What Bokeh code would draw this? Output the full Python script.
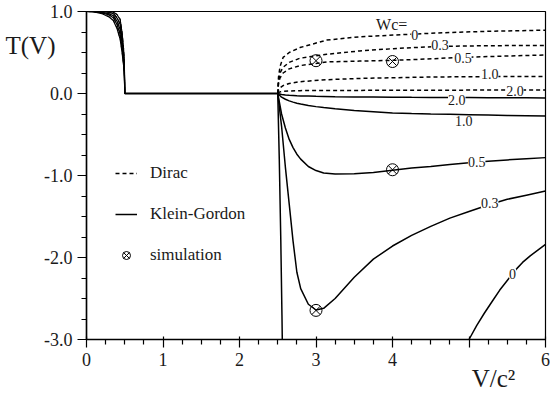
import numpy as np
from bokeh.plotting import figure
from bokeh.models import (FixedTicker, Label, Legend, LegendItem, Range1d, LinearAxis,
                          CustomJSTickFormatter)
from bokeh.embed import file_html
from bokeh.resources import INLINE

# ---------------- data ----------------
wc_texts = ["0", "0.3", "0.5", "1.0", "2.0"]

# region V < 0.5 (transmission drops to zero)
low_x = [0.0, 0.1, 0.2, 0.3, 0.35, 0.4, 0.44, 0.465, 0.485, 0.495, 0.5]
kg_low_0 = [1.0, 0.995, 0.975, 0.93, 0.89, 0.79, 0.66, 0.50, 0.34, 0.22, 0.0]
kg_low_03 = [1.0, 0.998, 0.985, 0.955, 0.925, 0.84, 0.72, 0.56, 0.38, 0.25, 0.0]
kg_low_05 = [1.0, 0.999, 0.99, 0.97, 0.95, 0.88, 0.78, 0.62, 0.43, 0.28, 0.0]
kg_low_10 = [1.0, 1.0, 0.997, 0.988, 0.975, 0.92, 0.84, 0.68, 0.48, 0.32, 0.0]
kg_low_20 = [1.0, 1.0, 1.0, 0.997, 0.992, 0.96, 0.90, 0.74, 0.54, 0.36, 0.0]
dirac_low_0 = [1.0, 0.996, 0.978, 0.935, 0.895, 0.80, 0.67, 0.51, 0.35, 0.23, 0.0]
dirac_low_03 = [1.0, 0.998, 0.987, 0.958, 0.93, 0.85, 0.73, 0.57, 0.39, 0.26, 0.0]
dirac_low_05 = [1.0, 0.999, 0.992, 0.973, 0.953, 0.89, 0.79, 0.63, 0.44, 0.29, 0.0]
dirac_low_10 = [1.0, 1.0, 0.998, 0.99, 0.978, 0.93, 0.85, 0.69, 0.49, 0.33, 0.0]
dirac_low_20 = [1.0, 1.0, 1.0, 0.998, 0.994, 0.965, 0.91, 0.75, 0.55, 0.37, 0.0]

# total reflection plateau
gap_x = [0.5, 2.5]
gap_T = [0.0, 0.0]

# Dirac, V > 2.5 (dashed)
dirac_x = [2.5, 2.51, 2.53, 2.57, 2.65, 2.79, 3.14, 3.57, 4.01, 4.44, 4.88, 5.31, 6.0]
dirac_0 = [0.0, 0.20, 0.33, 0.44, 0.50, 0.56, 0.651, 0.692, 0.712, 0.732, 0.748, 0.760, 0.772]
dirac_03 = [0.0, 0.15, 0.25, 0.32, 0.38, 0.43, 0.478, 0.519, 0.547, 0.567, 0.579, 0.583, 0.587]
dirac_05 = [0.0, 0.12, 0.19, 0.25, 0.30, 0.34, 0.385, 0.395, 0.405, 0.42, 0.44, 0.452, 0.470]
dirac_10 = [0.0, 0.04, 0.07, 0.096, 0.122, 0.144, 0.168, 0.184, 0.192, 0.200, 0.204, 0.206, 0.208]
dirac_20 = [0.0, 0.01, 0.02, 0.026, 0.031, 0.035, 0.037, 0.038, 0.039, 0.040, 0.041, 0.042, 0.043]

# Klein-Gordon, V > 2.5 (solid)
kg_x = [2.5, 2.55, 2.6, 2.65, 2.7, 2.75, 2.8, 2.9, 3.0, 3.1, 3.25, 3.5, 3.75, 4.0, 4.25, 4.5,
        4.75, 5.0, 5.25, 5.5, 5.75, 6.0]
kg_03 = [0.0, -0.40, -0.90, -1.35, -1.80, -2.18, -2.38, -2.57, -2.64, -2.62, -2.50, -2.24, -2.02,
         -1.86, -1.73, -1.62, -1.52, -1.44, -1.36, -1.29, -1.24, -1.19]
kg_05 = [0.0, -0.25, -0.42, -0.56, -0.66, -0.74, -0.80, -0.89, -0.94, -0.97, -0.983, -0.98, -0.962,
         -0.935, -0.91, -0.89, -0.865, -0.845, -0.825, -0.81, -0.795, -0.782]
kg_10 = [0.0, -0.045, -0.07, -0.09, -0.105, -0.118, -0.128, -0.146, -0.16, -0.172, -0.187, -0.206,
         -0.222, -0.238, -0.245, -0.250, -0.254, -0.258, -0.262, -0.267, -0.271, -0.275]
kg_20 = [0.0, -0.012, -0.017, -0.021, -0.024, -0.027, -0.029, -0.032, -0.035, -0.037, -0.040, -0.043,
         -0.044, -0.045, -0.047, -0.048, -0.049, -0.050, -0.051, -0.052, -0.053, -0.054]
kg0_xa = [2.5, 2.52, 2.54, 2.555, 2.565]
kg0_a = [0.0, -0.8, -1.8, -2.7, -3.4]
kg0_xb = [5.0, 5.1, 5.2, 5.3, 5.4, 5.5, 5.6, 5.7, 5.8, 5.9, 6.0]
kg0_b = [-3.0, -2.83, -2.68, -2.54, -2.40, -2.28, -2.16, -2.06, -1.98, -1.91, -1.84]

# simulation points
sim_x = [3.0, 4.0, 4.0, 3.0]
sim_T = [0.40, 0.39, -0.93, -2.645]

# in-line curve labels
dirac_label_x = [4.29, 4.62, 4.92, 5.27, 5.60]
dirac_label_T = [0.712, 0.595, 0.438, 0.236, 0.036]
kg_label_x = [5.57, 5.27, 5.10, 4.93, 4.84]
kg_label_T = [-2.196, -1.335, -0.831, -0.339, -0.085]

x_ticks = [0, 1, 2, 3, 4, 5, 6]
x_tick_labels = ["0", "1", "2", "3", "4", "", "6"]
y_ticks = [-3, -2, -1, 0, 1]
y_tick_labels = ["-3.0", "-2.0", "-1.0", "0.0", "1.0"]
y_title, y_title_at = "T(V)", 0.585
x_title, x_title_at = "V/c\u00b2", 5.32

# ---------------- figure ----------------
FONT = "'Liberation Serif', 'Times New Roman', serif"
TXT = "#1a1a1a"
p = figure(width=550, height=394, output_backend="svg", toolbar_location=None,
           x_range=Range1d(0, 6), y_range=Range1d(-3, 1),
           min_border_left=86, min_border_right=5, min_border_top=11, min_border_bottom=55)
p.grid.visible = False
p.outline_line_color = "black"
p.outline_line_width = 1.2
p.background_fill_color = "white"
p.border_fill_color = "white"

LW = 1.5
DASH = "4 3"

lows_kg = [kg_low_0, kg_low_03, kg_low_05, kg_low_10, kg_low_20]
lows_d = [dirac_low_0, dirac_low_03, dirac_low_05, dirac_low_10, dirac_low_20]
for yk, yd in zip(lows_kg, lows_d):
    p.line(low_x, yk, line_color="black", line_width=1.2)
    p.line(low_x, yd, line_color="black", line_width=1.0, line_dash=DASH)

p.line(gap_x, gap_T, line_color="black", line_width=2)

d_rends = []
for yd in [dirac_0, dirac_03, dirac_05, dirac_10, dirac_20]:
    d_rends.append(p.line(dirac_x, yd, line_color="black", line_width=LW, line_dash=DASH))

k_rends = []
for yk in [kg_03, kg_05, kg_10, kg_20]:
    k_rends.append(p.line(kg_x, yk, line_color="black", line_width=LW))
p.line(kg0_xa, kg0_a, line_color="black", line_width=LW)
p.line(kg0_xb, kg0_b, line_color="black", line_width=LW)

sim = p.scatter(sim_x, sim_T, marker="circle_x", size=12, line_color="black",
                fill_alpha=0, line_width=1)

# curve labels
for t, x, y in zip(wc_texts, dirac_label_x, dirac_label_T):
    p.add_layout(Label(x=x, y=y, text=t, text_font=FONT, text_font_size="14px",
                       text_align="center", text_baseline="middle", text_color=TXT,
                       background_fill_color="white"))
for t, x, y in zip(wc_texts, kg_label_x, kg_label_T):
    p.add_layout(Label(x=x, y=y, text=t, text_font=FONT, text_font_size="14px",
                       text_align="center", text_baseline="middle", text_color=TXT,
                       background_fill_color="white"))
p.add_layout(Label(x=3.99, y=0.84, text="Wc=", text_font=FONT, text_font_size="16px",
                   text_align="center", text_baseline="middle", text_color=TXT))

# legend
legend = Legend(items=[LegendItem(label="Dirac", renderers=[d_rends[0]]),
                       LegendItem(label="Klein-Gordon", renderers=[k_rends[0]]),
                       LegendItem(label="simulation", renderers=[sim])],
                location=(29, 74), orientation="vertical", spacing=21, padding=0, margin=0,
                glyph_width=22, glyph_height=20, label_height=20, label_standoff=13,
                label_text_font=FONT, label_text_font_size="17px", label_text_color=TXT,
                border_line_color=None, background_fill_alpha=0)
p.add_layout(legend)

# axes
minor_x = [v for v in np.arange(0, 6.001, 0.25) if abs(v - round(v)) > 1e-6]
minor_y = [v for v in np.arange(-3, 1.001, 0.25) if abs(v - round(v)) > 1e-6]
p.xaxis.ticker = FixedTicker(ticks=x_ticks, minor_ticks=minor_x)
p.yaxis.ticker = FixedTicker(ticks=y_ticks, minor_ticks=minor_y)
p.xaxis.major_label_overrides = {t: s for t, s in zip(x_ticks, x_tick_labels)}
p.yaxis.major_label_overrides = {t: s for t, s in zip(y_ticks, y_tick_labels)}
for ax in (p.xaxis, p.yaxis):
    ax.axis_line_width = 1.5
    ax.axis_line_color = "black"
    ax.major_tick_line_color = "black"
    ax.minor_tick_line_color = "black"
    ax.major_tick_line_width = 1.2
    ax.minor_tick_line_width = 1.2
    ax.major_label_text_font = FONT
    ax.major_label_text_font_size = "18px"
    ax.major_label_text_color = TXT
p.xaxis.major_tick_in = 3
p.xaxis.major_tick_out = 8
p.xaxis.minor_tick_in = 0
p.xaxis.minor_tick_out = 5
p.yaxis.major_tick_in = 0
p.yaxis.major_tick_out = 9
p.yaxis.minor_tick_in = 0
p.yaxis.minor_tick_out = 5
p.xaxis.major_label_standoff = 5
p.yaxis.major_label_standoff = 5

# axis titles, placed through extra (line-less) axes so they sit at their data positions
def title_axis(text, at, standoff):
    ax = LinearAxis(ticker=FixedTicker(ticks=[at], minor_ticks=[]),
                    formatter=CustomJSTickFormatter(code="return %r;" % text))
    ax.axis_line_color = None
    ax.major_tick_line_color = None
    ax.minor_tick_line_color = None
    ax.major_tick_in = 0
    ax.major_tick_out = 0
    ax.minor_tick_in = 0
    ax.minor_tick_out = 0
    ax.major_label_standoff = standoff
    ax.major_label_text_font = FONT
    ax.major_label_text_font_size = "25px"
    ax.major_label_text_color = TXT
    return ax

p.add_layout(title_axis(y_title, y_title_at, -14), "left")
p.add_layout(title_axis(x_title, x_title_at, -4), "below")

open("out.html", "w").write(file_html(p, INLINE))
